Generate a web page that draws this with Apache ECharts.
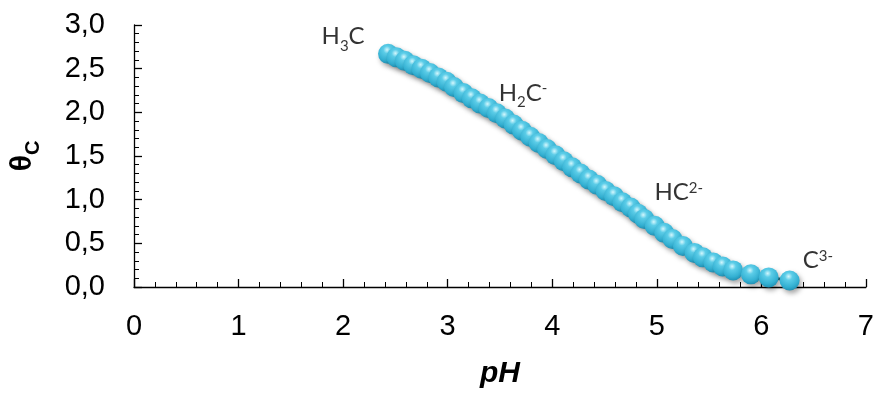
<!DOCTYPE html>
<html>
<head>
<meta charset="utf-8">
<script src="https://cdn.jsdelivr.net/npm/echarts@6/dist/echarts.min.js"></script>
<style>
html,body{margin:0;padding:0;background:#fff;}
#c{width:877px;height:395px;}
</style>
</head>
<body>
<div id="c"></div>
<script>
// pH values (x) and average protonation theta_C (y)
var pHValues = [2.43,2.51,2.59,2.67,2.75,2.83,2.91,2.99,3.06,3.15,3.23,3.31,3.39,3.47,3.55,
  3.63,3.71,3.79,3.87,3.95,4.03,4.11,4.19,4.27,4.35,4.43,4.51,4.59,4.67,4.75,4.82,4.88,
  4.98,5.07,5.15,5.25,5.36,5.44,5.54,5.63,5.73,5.90,6.07,6.27];
var thetaValues = [2.67,2.63,2.59,2.54,2.50,2.45,2.40,2.35,2.29,2.22,2.16,2.10,2.05,1.99,1.93,
  1.86,1.79,1.72,1.65,1.58,1.51,1.44,1.37,1.30,1.23,1.17,1.10,1.04,0.97,0.91,0.84,0.78,
  0.70,0.62,0.55,0.47,0.39,0.34,0.28,0.235,0.19,0.145,0.11,0.075];

// species annotations: rich text and their (pH, theta) anchor
var speciesLabels = ['{a|H}{sb|3}{a|C}', '{a|H}{sb|2}{a|C}{sp|-}', '{a|HC}{sp|2-}', '{a|C}{sp|3-}'];
var speciesPH = [2.0, 3.72, 5.21, 6.54];
var speciesTheta = [2.86, 2.21, 1.07, 0.29];

var xTicks = {min: 0, max: 7, interval: 1};
var yTicks = {min: 0, max: 3, interval: 0.5};

var curve = pHValues.map(function (p, i) { return [p, thetaValues[i]]; });
var notes = speciesLabels.map(function (t, i) { return {name: t, value: [speciesPH[i], speciesTheta[i]]}; });

var chart = echarts.init(document.getElementById('c'), null, {renderer: 'canvas'});

var sphere = {
  type: 'radial', x: 0.45, y: 0.3, r: 0.75,
  colorStops: [
    {offset: 0, color: '#d4f7fd'},
    {offset: 0.25, color: '#5ccde8'},
    {offset: 0.7, color: '#33b0d2'},
    {offset: 1, color: '#1d89ad'}
  ]
};

var richText = {
  a: {fontFamily: 'Lato', fontSize: 24, color: '#000', lineHeight: 26, verticalAlign: 'top'},
  sb: {fontFamily: 'Lato', fontSize: 15, color: '#000', lineHeight: 15, verticalAlign: 'top', padding: [14, 0, 0, 0]},
  sp: {fontFamily: 'Lato', fontSize: 15, color: '#000', lineHeight: 15, verticalAlign: 'top', padding: [0, 0, 0, 0]}
};

chart.setOption({
  animation: false,
  backgroundColor: '#ffffff',
  grid: {left: 132, right: 11, top: 25, bottom: 108, containLabel: false},
  xAxis: {
    type: 'value', min: xTicks.min, max: xTicks.max, interval: xTicks.interval,
    name: 'pH', nameLocation: 'middle', nameGap: 72,
    nameTextStyle: {fontFamily: 'Liberation Sans', fontSize: 30, fontWeight: 'bold', fontStyle: 'italic', color: '#000'},
    axisLine: {show: true, onZero: false, lineStyle: {color: '#000', width: 1.3}},
    axisTick: {show: true, inside: true, length: 8, lineStyle: {color: '#000', width: 1.3}},
    minorTick: {show: true, splitNumber: 5, length: 5, lineStyle: {color: '#000', width: 1}},
    axisLabel: {fontFamily: 'Liberation Sans', fontSize: 29, color: '#000', margin: 25},
    splitLine: {show: false}
  },
  yAxis: {
    type: 'value', min: yTicks.min, max: yTicks.max, interval: yTicks.interval,
    name: '{t|θ}{s|C}', nameLocation: 'middle', nameGap: 94, nameRotate: 90,
    nameTextStyle: {
      rich: {
        t: {fontFamily: 'Liberation Sans', fontSize: 30, fontWeight: 'bold', color: '#000', lineHeight: 32, verticalAlign: 'top'},
        s: {fontFamily: 'Liberation Sans', fontSize: 20, fontWeight: 'bold', color: '#000', lineHeight: 20, verticalAlign: 'top', padding: [15, 0, 0, 0]}
      }
    },
    axisLine: {show: true, onZero: false, lineStyle: {color: '#000', width: 1.3}},
    axisTick: {show: true, inside: true, length: 8, lineStyle: {color: '#000', width: 1.3}},
    minorTick: {show: true, splitNumber: 5, length: 5, lineStyle: {color: '#000', width: 1}},
    axisLabel: {
      fontFamily: 'Liberation Sans', fontSize: 29, color: '#000', margin: 29,
      formatter: function (v) { return v.toFixed(1).replace('.', ','); }
    },
    splitLine: {show: false}
  },
  series: [
    {
      type: 'line', data: curve, smooth: true, symbol: 'circle', symbolSize: 20,
      lineStyle: {color: '#1b6c80', width: 3},
      itemStyle: {
        color: sphere, borderWidth: 0,
        shadowColor: 'rgba(0,0,0,0.35)', shadowBlur: 5, shadowOffsetX: 2, shadowOffsetY: 3
      },
      z: 3
    },
    {
      type: 'scatter', data: notes, symbolSize: 0, silent: true,
      label: {
        show: true, position: 'inside', color: '#000', textBorderWidth: 0,
        formatter: function (p) { return p.name; },
        rich: richText
      },
      z: 5
    }
  ]
});
</script>
</body>
</html>
